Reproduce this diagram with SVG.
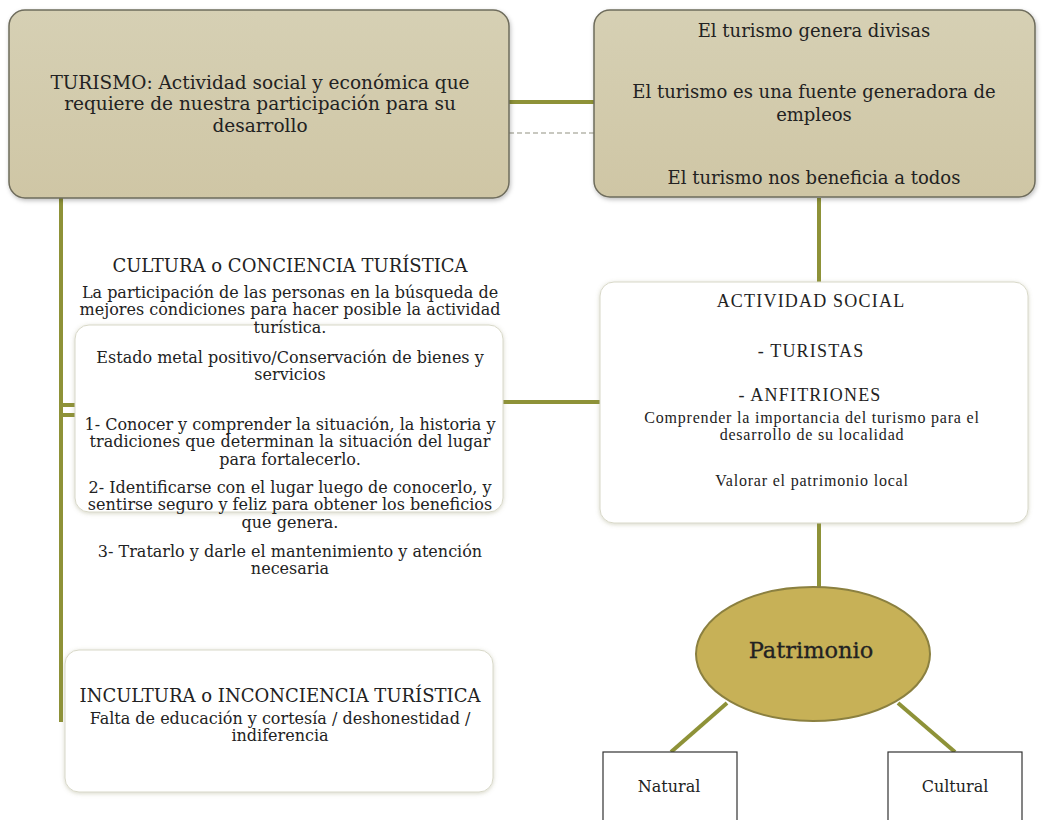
<svg xmlns="http://www.w3.org/2000/svg" width="1060" height="820" viewBox="0 0 1060 820">
<defs>
<linearGradient id="tan" x1="0" y1="0" x2="0" y2="1">
<stop offset="0" stop-color="#d6d0b4"/>
<stop offset="1" stop-color="#cfc6a5"/>
</linearGradient>
<filter id="sh" x="-5%" y="-5%" width="110%" height="115%">
<feDropShadow dx="1" dy="2" stdDeviation="2" flood-color="#000" flood-opacity="0.25"/>
</filter>
<filter id="sh2" x="-5%" y="-5%" width="110%" height="115%">
<feDropShadow dx="0" dy="1" stdDeviation="2" flood-color="#8a8a60" flood-opacity="0.35"/>
</filter>
</defs>
<style>
.tan{fill:url(#tan);stroke:#6e6c5c;stroke-width:1.5}
.wht{fill:#ffffff;stroke:#d8d8c8;stroke-width:1}
.conn{stroke:#8e9238;stroke-width:4;fill:none}
.t{font-family:"DejaVu Serif","Liberation Serif",serif;fill:#222;text-anchor:middle}
.c{font-family:"Liberation Serif","DejaVu Serif",serif;fill:#222;text-anchor:middle}
</style>
<rect width="1060" height="820" fill="#ffffff"/>
<g id="connectors">
<line class="conn" x1="509" y1="102" x2="594" y2="102"/>
<line x1="509" y1="133" x2="594" y2="133" stroke="#c8c8c0" stroke-width="2" stroke-dasharray="5,3"/>
<line class="conn" x1="61" y1="198" x2="61" y2="722" stroke-width="6"/>
<line class="conn" x1="61" y1="405" x2="76" y2="405" stroke-width="3"/>
<line class="conn" x1="61" y1="415" x2="76" y2="415" stroke-width="3"/>
<line class="conn" x1="503" y1="402" x2="601" y2="402"/>
<line class="conn" x1="819" y1="198" x2="819" y2="283"/>
<line class="conn" x1="819" y1="523" x2="819" y2="588"/>
<line class="conn" x1="727" y1="703" x2="671" y2="752" stroke-width="3"/>
<line class="conn" x1="898" y1="703" x2="955" y2="752" stroke-width="3"/>
</g>
<g id="turismo">
<rect class="tan" x="9" y="10" width="500" height="188" rx="16" filter="url(#sh)"/>
<text class="t" font-size="18.5"><tspan x="260" y="89">TURISMO: Actividad social y económica que</tspan><tspan x="260" y="110">requiere de nuestra participación para su</tspan><tspan x="260" y="132">desarrollo</tspan></text>
</g>
<g id="beneficios">
<rect class="tan" x="594" y="10" width="441" height="187" rx="16" filter="url(#sh)"/>
<text class="t" font-size="18"><tspan x="814" y="37">El turismo genera divisas</tspan><tspan x="814" y="98">El turismo es una fuente generadora de</tspan><tspan x="814" y="121">empleos</tspan><tspan x="814" y="184">El turismo nos beneficia a todos</tspan></text>
</g>
<g id="cultura">
<rect class="wht" x="75" y="325" width="428" height="187" rx="14" filter="url(#sh2)"/>
<text class="t" font-size="18" x="290" y="272">CULTURA o CONCIENCIA TURÍSTICA</text>
<text class="t" font-size="16"><tspan x="290" y="298">La participación de las personas en la búsqueda de</tspan><tspan x="290" y="315">mejores condiciones para hacer posible la actividad</tspan><tspan x="290" y="333">turística.</tspan><tspan x="290" y="363">Estado metal positivo/Conservación de bienes y</tspan><tspan x="290" y="380">servicios</tspan><tspan x="290" y="430">1- Conocer y comprender la situación, la historia y</tspan><tspan x="290" y="447">tradiciones que determinan la situación del lugar</tspan><tspan x="290" y="465">para fortalecerlo.</tspan><tspan x="290" y="493">2-  Identificarse con el lugar luego de conocerlo, y</tspan><tspan x="290" y="510">sentirse seguro y feliz para obtener los beneficios</tspan><tspan x="290" y="528">que genera.</tspan><tspan x="290" y="557">3- Tratarlo y darle el mantenimiento y atención</tspan><tspan x="290" y="574">necesaria</tspan></text>
</g>
<g id="actividad">
<rect class="wht" x="600" y="282" width="428" height="241" rx="14" filter="url(#sh2)"/>
<text class="c" font-size="18" letter-spacing="1.2"><tspan x="811" y="307">ACTIVIDAD SOCIAL</tspan><tspan x="811" y="357">- TURISTAS</tspan><tspan x="810" y="401">- ANFITRIONES</tspan></text>
<text class="c" font-size="16" letter-spacing="0.8"><tspan x="812" y="423">Comprender la importancia del turismo para el</tspan><tspan x="812" y="440">desarrollo de su localidad</tspan><tspan x="812" y="486">Valorar el patrimonio local</tspan></text>
</g>
<g id="incultura">
<rect class="wht" x="65" y="650" width="428" height="142" rx="14" filter="url(#sh2)"/>
<text class="t" font-size="18" x="280" y="702">INCULTURA o INCONCIENCIA TURÍSTICA</text>
<text class="t" font-size="16"><tspan x="280" y="724">Falta de educación y cortesía / deshonestidad /</tspan><tspan x="280" y="741">indiferencia</tspan></text>
</g>
<g id="patrimonio">
<ellipse cx="813" cy="654" rx="117" ry="67" fill="#c7b157" stroke="#8b8040" stroke-width="2"/>
<text class="t" font-size="22.5" x="811" y="658" stroke="#222" stroke-width="0.3">Patrimonio</text>
</g>
<g id="natural">
<rect x="603" y="752" width="134" height="80" fill="#fff" stroke="#333" stroke-width="1.2"/>
<text class="t" font-size="16" x="669" y="792">Natural</text>
</g>
<g id="cultural">
<rect x="888" y="752" width="134" height="80" fill="#fff" stroke="#333" stroke-width="1.2"/>
<text class="t" font-size="16" x="955" y="792">Cultural</text>
</g>
</svg>
